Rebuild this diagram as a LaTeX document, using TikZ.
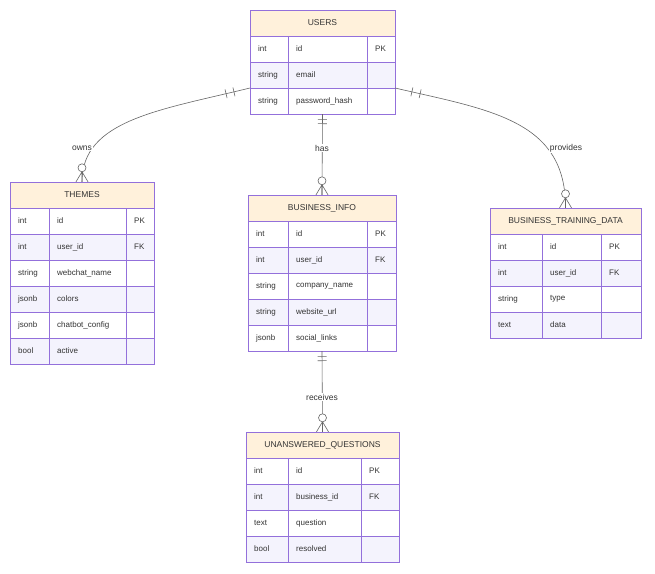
\documentclass[tikz,border=0pt]{standalone}
\usepackage{fontspec}
\setmainfont{Liberation Sans}
\usetikzlibrary{calc}
\definecolor{erline}{HTML}{9370DB}
\definecolor{erhead}{HTML}{FFF1DB}
\definecolor{errow}{HTML}{F4F3FD}
\definecolor{ertext}{HTML}{333333}
\definecolor{erlink}{HTML}{666666}
\tikzset{
  headbox/.style={draw=erline, fill=erhead, inner sep=0pt, minimum height=26pt, text=ertext, font=\fontsize{8.5}{10}\selectfont},
  cell/.style={anchor=west, inner sep=0pt, text=ertext, font=\fontsize{8}{10}\selectfont},
  link/.style={draw=erlink, line width=0.6pt},
  rel/.style={fill=white, inner sep=1pt, text=ertext, font=\fontsize{8.5}{10}\selectfont},
  bar/.style={draw=erlink, line width=0.6pt, minimum width=0pt, minimum height=9pt, inner sep=0pt}
}
% #1 name, #2 title, #3..#6 column edges, #7 top, #8 rows
\newcommand{\erbox}[8]{%
  \node[headbox, minimum width={(#6-#3)*1pt}] (#1) at ({(#3+#6)/2},{#7+13}) {#2};
  \foreach \ty/\nm/\ky [count=\i] in {#8} {
    \pgfmathsetmacro\ya{#7+26*\i}
    \ifodd\i\else\fill[errow] (#3,\ya) rectangle (#6,\ya+26);\fi
    \draw[erline, line width=0.5pt] (#3,\ya) rectangle (#6,\ya+26) (#4,\ya) -- (#4,\ya+26) (#5,\ya) -- (#5,\ya+26);
    \node[cell] at (#3+8,\ya+13) {\ty};
    \node[cell] at (#4+8,\ya+13) {\nm};
    \node[cell] at (#5+8,\ya+13) {\ky};
    \coordinate (#1-bot) at ({(#3+#6)/2},\ya+26);
  }
}
% zero-or-many end on top of an entity
\newcommand{\crowfoot}[1]{%
  \draw[link] ([yshift=10pt]#1.north) -- ([xshift=-6pt]#1.north)
              ([yshift=10pt]#1.north) -- (#1.north)
              ([yshift=10pt]#1.north) -- ([xshift=6pt]#1.north);
  \draw[link, fill=white] ([yshift=14pt]#1.north) circle (4pt);
}
\begin{document}
\begin{tikzpicture}[x=1pt, y=-1pt]
\useasboundingbox (0,0) rectangle (655,573);
\fill[white] (0,0) rectangle (655,573);

\erbox{users}{USERS}{250}{288}{367}{395}{10}{int/id/PK, string/email/, string/password\_hash/}
\erbox{themes}{THEMES}{10}{49}{126}{154}{182}{int/id/PK, int/user\_id/FK, string/webchat\_name/, jsonb/colors/, jsonb/chatbot\_config/, bool/active/}
\erbox{info}{BUSINESS\_INFO}{248}{288}{367}{396}{195}{int/id/PK, int/user\_id/FK, string/company\_name/, string/website\_url/, jsonb/social\_links/}
\erbox{training}{BUSINESS\_TRAINING\_DATA}{490}{542}{601}{641}{208}{int/id/PK, int/user\_id/FK, string/type/, text/data/}
\erbox{questions}{UNANSWERED\_QUESTIONS}{246}{288}{361}{399}{432}{int/id/PK, int/business\_id/FK, text/question/, bool/resolved/}

\coordinate (users-w) at (250,88);
\coordinate (users-e) at (395,88);

% relationships
\draw[link] (users-w) .. controls (160,110) and (82,120) .. (themes.north)
  node[pos=0.06, sloped, bar] {} node[pos=0.09, sloped, bar] {};
\draw[link] (users-e) .. controls (490,110) and (566,120) .. (training.north)
  node[pos=0.06, sloped, bar] {} node[pos=0.09, sloped, bar] {};
\draw[link] (users-bot) -- (info.north)
  node[pos=0.07, sloped, bar] {} node[pos=0.12, sloped, bar] {};
\draw[link] (info-bot) -- (questions.north)
  node[pos=0.07, sloped, bar] {} node[pos=0.12, sloped, bar] {};
\crowfoot{themes}
\crowfoot{training}
\crowfoot{info}
\crowfoot{questions}

\node[rel] (owns) at (82,148) {owns};
\node[rel] (has) at (322,148) {has};
\node[rel] (provides) at (566,148) {provides};
\node[rel] (receives) at (322,397) {receives};
\end{tikzpicture}
\end{document}
